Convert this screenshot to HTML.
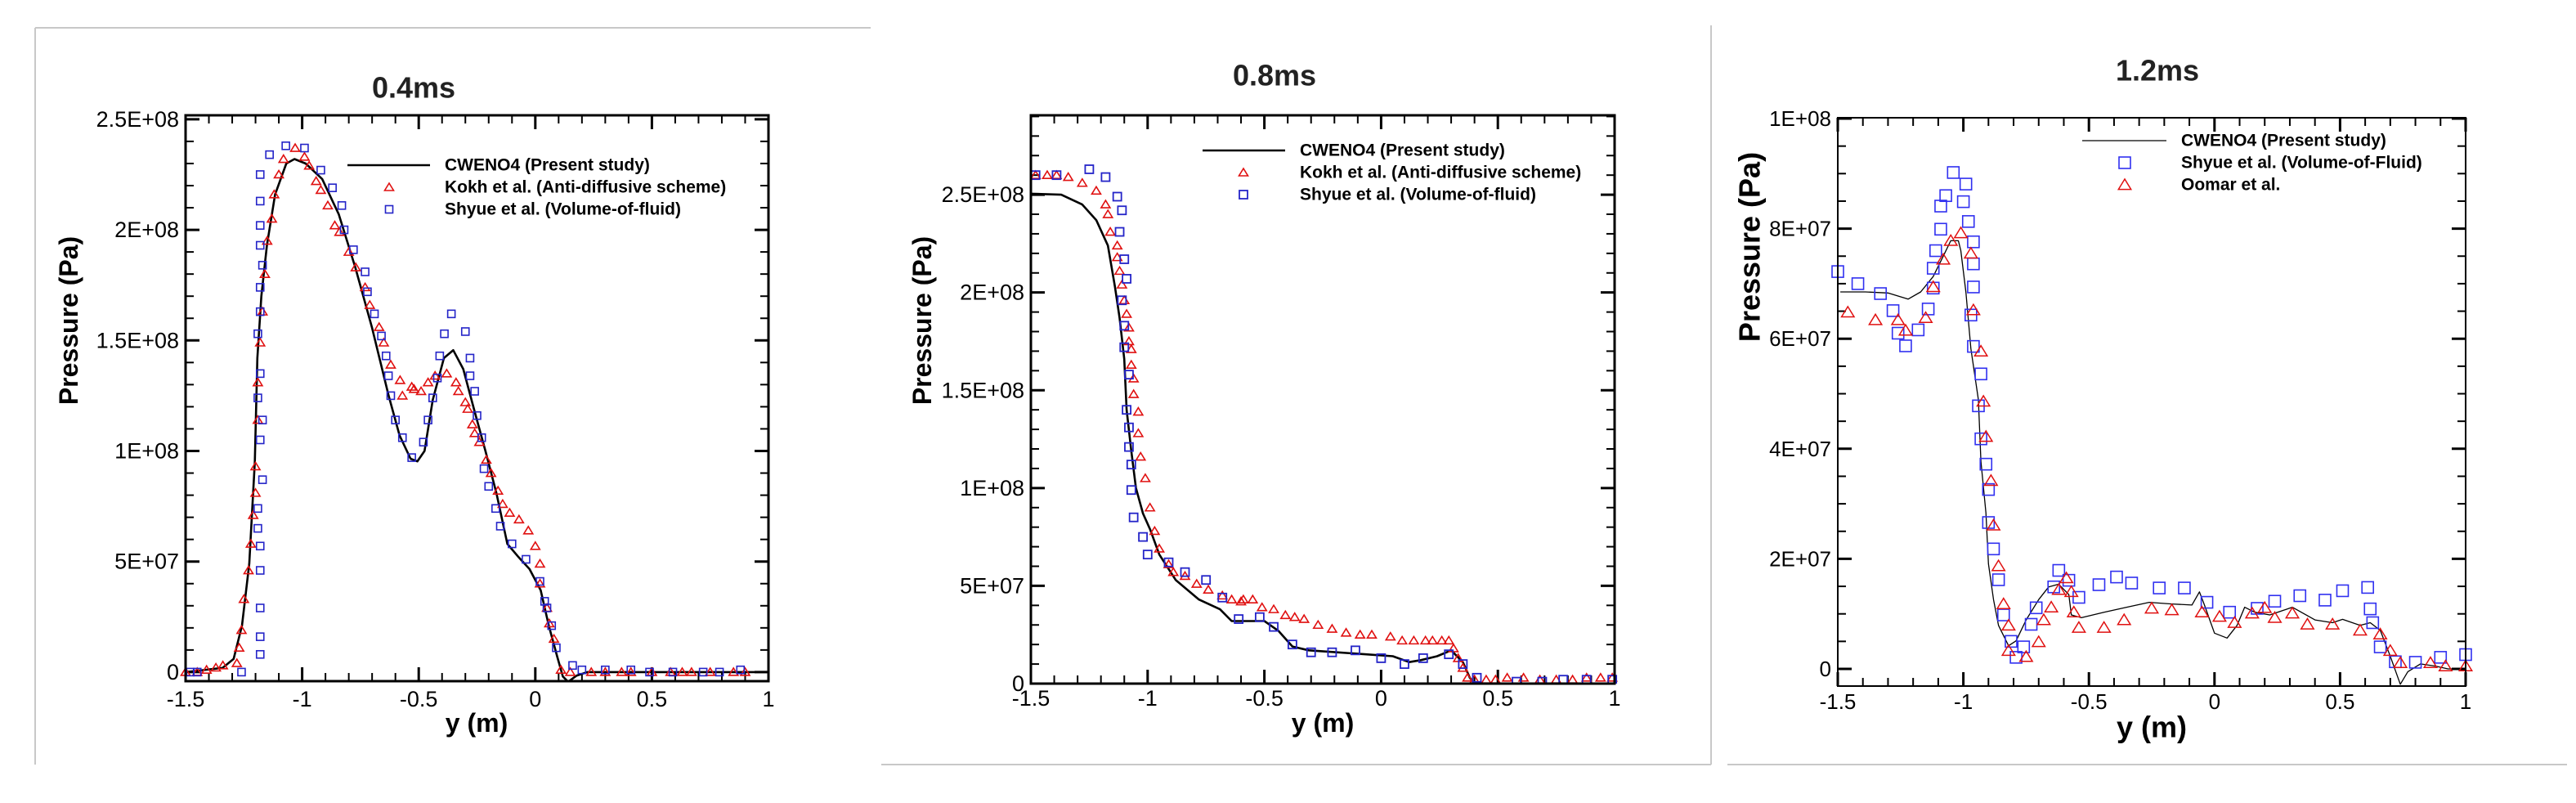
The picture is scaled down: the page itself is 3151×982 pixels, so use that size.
<!DOCTYPE html>
<html><head><meta charset="utf-8">
<style>
html,body{margin:0;padding:0;background:#fff;}
svg{display:block;font-family:"Liberation Sans",Arial,sans-serif;}
</style></head>
<body>
<svg id="chart" width="3151" height="982" viewBox="0 0 3151 982" xmlns="http://www.w3.org/2000/svg">
<g id="frames" stroke="#c8c8c8" stroke-width="2" fill="none">
<line x1="43" y1="34" x2="1065" y2="34"/>
<line x1="43" y1="34" x2="43" y2="935"/>
<line x1="1078" y1="935" x2="2093" y2="935"/>
<line x1="2093" y1="31" x2="2093" y2="935"/>
<line x1="2113" y1="935" x2="3140" y2="935"/>
</g>
</svg>
<script>
// ---------- Panel 1 (0.4ms) data: x in m, y in 1e6 Pa ----------
const p1CwenoX=[-1.5,-1.341,-1.294,-1.258,-1.227,-1.203,-1.192,-1.175,-1.151,-1.116,-1.068,-1.033,-0.985,-0.914,-0.843,-0.772,-0.701,-0.629,-0.582,-0.535,-0.506,-0.475,-0.44,-0.392,-0.352,-0.309,-0.262,-0.214,-0.167,-0.12,-0.072,-0.025,0.023,0.058,0.094,0.118,0.141,0.177,0.224,1];
const p1CwenoY=[0,1.9,6,21,49,95,142,170,193,216,230,232,230,223,207,183,156,125,107,96.5,95.3,100,123,142,145.6,137,118.5,100,81,58,52,46.6,37,21,7,-2,-4.4,-1.6,0,0];
const p1KokhX=[-1.5,-1.45,-1.41,-1.37,-1.34,-1.28,-1.27,-1.26,-1.25,-1.23,-1.22,-1.21,-1.2,-1.2,-1.19,-1.19,-1.18,-1.17,-1.16,-1.15,-1.13,-1.12,-1.1,-1.08,-1.03,-0.99,-0.97,-0.94,-0.92,-0.89,-0.86,-0.84,-0.8,-0.77,-0.73,-0.71,-0.67,-0.65,-0.62,-0.58,-0.57,-0.53,-0.52,-0.49,-0.46,-0.43,-0.38,-0.34,-0.33,-0.3,-0.29,-0.27,-0.26,-0.24,-0.21,-0.19,-0.16,-0.14,-0.11,-0.07,-0.03,0,0.02,0.02,0.05,0.06,0.08,0.11,0.15,0.24,0.3,0.37,0.41,0.5,0.58,0.63,0.67,0.75,0.85,0.9];
const p1KokhY=[0,0,1,2,3,4,11,19,33,46,58,71,81,93,114,131,149,163,180,195,205,216,225,232,237,233,229,222,218,211,202,199,190,183,174,166,156,149,139,132,125,129,128,127,131,134,135,131,127,122,119,112,108,104,96,90,82,76,72,69,64,57,49,40,29,22,15,1,0,0,0,0,0,0,0,0,0,0,0,0];
const p1ShyueX=[-1.48,-1.45,-1.26,-1.18,-1.18,-1.18,-1.18,-1.18,-1.19,-1.19,-1.17,-1.18,-1.17,-1.19,-1.18,-1.19,-1.18,-1.18,-1.17,-1.18,-1.18,-1.18,-1.18,-1.14,-1.07,-0.99,-0.92,-0.87,-0.83,-0.82,-0.78,-0.73,-0.72,-0.69,-0.66,-0.64,-0.63,-0.62,-0.6,-0.57,-0.53,-0.48,-0.46,-0.44,-0.42,-0.41,-0.39,-0.36,-0.3,-0.28,-0.28,-0.26,-0.25,-0.23,-0.22,-0.2,-0.17,-0.15,-0.1,-0.04,0.02,0.04,0.05,0.07,0.09,0.16,0.2,0.3,0.41,0.49,0.59,0.72,0.79,0.88];
const p1ShyueY=[0,0,0,8,16,29,46,57,65,74,87,105,114,124,135,153,163,174,184,193,202,213,225,234,238,237,227,219,211,200,191,181,172,162,152,143,134,125,114,106,97,104,114,124,133,143,153,162,154,142,134,127,116,106,92,84,74,66,58,51,41,32,29,21,11,3,1,1,1,0,0,0,0,1];
// ---------- Panel 2 (0.8ms) ----------
const p2CwenoX=[-1.5,-1.37,-1.28,-1.22,-1.17,-1.14,-1.12,-1.1,-1.09,-1.07,-1.05,-1.02,-0.99,-0.95,-0.88,-0.78,-0.69,-0.64,-0.59,-0.5,-0.44,-0.38,-0.31,-0.19,-0.07,0.05,0.12,0.17,0.24,0.3,0.35,0.38,0.4,1];
const p2CwenoY=[250.5,250,245,237,224,203,187,166,140,119,100,87,79,66,53,43,38,32,32,32,27,19,17,16,15,14,11,12,14,17,11,3,0,0];
const p2KokhX=[-1.48,-1.43,-1.39,-1.34,-1.28,-1.22,-1.18,-1.17,-1.16,-1.13,-1.13,-1.12,-1.11,-1.1,-1.09,-1.08,-1.08,-1.07,-1.07,-1.06,-1.06,-1.04,-1.04,-1.03,-1.01,-0.99,-0.97,-0.95,-0.91,-0.89,-0.84,-0.79,-0.74,-0.68,-0.64,-0.6,-0.59,-0.55,-0.51,-0.46,-0.41,-0.37,-0.33,-0.27,-0.21,-0.15,-0.09,-0.04,0.04,0.09,0.14,0.19,0.22,0.26,0.29,0.31,0.33,0.35,0.37,0.4,0.45,0.49,0.54,0.61,0.68,0.75,0.82,0.88,0.94,0.99];
const p2KokhY=[260,260,260,259,256,252,245,240,231,224,218,211,204,196,189,182,175,171,163,156,148,139,128,116,105,90,78,69,61,57,55,51,48,45,43,42,43,43,39,38,35,34,33,30,28,26,25,25,24,22,22,22,22,22,22,18,13,8,3,2,2,2,3,3,2,2,2,3,3,3];
const p2ShyueX=[-1.48,-1.39,-1.25,-1.18,-1.13,-1.11,-1.12,-1.1,-1.09,-1.11,-1.1,-1.1,-1.08,-1.09,-1.08,-1.08,-1.07,-1.07,-1.06,-1.02,-1,-0.91,-0.84,-0.75,-0.68,-0.61,-0.52,-0.46,-0.38,-0.3,-0.21,-0.11,0,0.1,0.18,0.29,0.35,0.41,0.58,0.69,0.78,0.88,0.99];
const p2ShyueY=[260,260,263,259,249,242,231,217,207,196,183,172,158,140,131,121,112,99,85,75,66,62,57,53,44,33,34,29,20,16,16,17,13,10,13,15,10,3,1,1,2,2,2];
// ---------- Panel 3 (1.2ms) ----------
const p3CwenoX=[-1.49,-1.39,-1.3,-1.22,-1.17,-1.12,-1.08,-1.05,-1.02,-1.01,-0.99,-0.97,-0.94,-0.93,-0.91,-0.9,-0.88,-0.86,-0.82,-0.79,-0.75,-0.7,-0.66,-0.62,-0.58,-0.57,-0.53,-0.44,-0.35,-0.26,-0.17,-0.09,-0.06,-0.04,0,0.05,0.09,0.12,0.16,0.22,0.31,0.4,0.47,0.51,0.58,0.62,0.66,0.7,0.74,0.77,0.82,0.88,0.93,1];
const p3CwenoY=[68.5,68.5,68.3,67.2,68.5,71.3,75,77.8,77.8,76,68.5,58.2,48.9,37.7,28.4,19.1,12.6,7.9,4.2,5.1,8.9,12.6,14.9,15.4,13.5,9.8,9.3,10.3,11.2,12.1,11.8,11.6,14,11.6,6.5,5.6,7.9,11.2,10.3,9.8,11.2,8.9,8.4,9,7.9,8.4,7,2.3,-2.8,-0.5,0.9,0.5,0,0];
const p3ShyueX=[-1.5,-1.42,-1.33,-1.28,-1.26,-1.23,-1.18,-1.14,-1.12,-1.12,-1.11,-1.09,-1.09,-1.07,-1.04,-1,-0.99,-0.98,-0.96,-0.96,-0.96,-0.97,-0.96,-0.93,-0.94,-0.93,-0.91,-0.9,-0.9,-0.88,-0.86,-0.84,-0.81,-0.79,-0.76,-0.73,-0.71,-0.64,-0.62,-0.58,-0.54,-0.46,-0.39,-0.33,-0.22,-0.12,-0.03,0.06,0.17,0.24,0.34,0.44,0.51,0.61,0.62,0.63,0.66,0.72,0.8,0.9,1];
const p3ShyueY=[72.2,70,68.2,65.1,61,58.7,61.6,65.4,69.2,72.8,76,79.9,84.1,86,90.2,84.9,88.1,81.3,77.6,73.6,69.4,64.3,58.6,53.6,47.8,41.8,37.2,32.6,26.6,21.8,16.2,9.8,5,2.1,4,8.1,11.1,14.9,17.9,16.1,13,15.3,16.7,15.6,14.7,14.7,12.1,10.3,11,12.3,13.3,12.5,14.2,14.8,10.9,8.4,4,1.3,1.2,2.1,2.6];
const p3OomarX=[-1.46,-1.35,-1.26,-1.23,-1.15,-1.12,-1.08,-1.05,-1.01,-0.97,-0.96,-0.93,-0.92,-0.91,-0.89,-0.88,-0.86,-0.84,-0.82,-0.82,-0.75,-0.7,-0.68,-0.65,-0.62,-0.59,-0.57,-0.56,-0.54,-0.44,-0.36,-0.25,-0.17,-0.05,0.02,0.08,0.15,0.2,0.24,0.31,0.37,0.47,0.58,0.66,0.7,0.74,0.86,0.92,1];
const p3OomarY=[64.8,63.4,63.4,61.5,63.8,69.4,74.4,77.8,79.2,75.5,65.2,57.7,48.6,42.2,34.2,26.1,18.7,11.8,7.9,3.3,2.2,4.9,8.9,11.2,14.4,16.5,14,10.3,7.5,7.5,8.9,11,10.7,10.3,9.5,8.4,10.1,11.1,9.3,10.1,8.1,8.1,7,6.3,3.3,1.1,1.1,0.5,0.5];
// tick labels
const p1YTickVals=[0,50,100,150,200,250];
const p1YTickLabels=["0","5E+07","1E+08","1.5E+08","2E+08","2.5E+08"];
const p2YTickVals=[0,50,100,150,200,250];
const p2YTickLabels=["0","5E+07","1E+08","1.5E+08","2E+08","2.5E+08"];
const p3YTickVals=[0,20,40,60,80,100];
const p3YTickLabels=["0","2E+07","4E+07","6E+07","8E+07","1E+08"];
const xTickVals=[-1.5,-1,-0.5,0,0.5,1];
const xTickLabels=["-1.5","-1","-0.5","0","0.5","1"];

const NS="http://www.w3.org/2000/svg";
const svg=document.getElementById('chart');
function mk(tag,attrs,parent){const e=document.createElementNS(NS,tag);for(const k in attrs)e.setAttribute(k,attrs[k]);(parent||svg).appendChild(e);return e;}

function panel(cfg){
  const g=mk('g',{});
  
  
  const sx=v=>cfg.x0+(v-(-1.5))/(2.5)*(cfg.x1-cfg.x0);
  const sy=v=>cfg.yb-(v-cfg.ymin)/(cfg.ymax-cfg.ymin)*(cfg.yb-cfg.yt);
  // title
  const t=mk('text',{x:cfg.tx,y:cfg.ty,'text-anchor':'middle','font-size':36,'font-weight':'bold',fill:'#222','dominant-baseline':'central'},g);
  t.textContent=cfg.title;
  
  
  // ticks
  const tg=mk('g',{stroke:'#000','stroke-width':2},g);
  
  
  for(let i=0;i<=25;i++){
    const v=-1.5+i*0.1, X=sx(v), maj=(i%5===0), L=maj?17:10;
    mk('line',{x1:X,y1:cfg.yb,x2:X,y2:cfg.yb-L,'stroke-width':maj?3:2},tg);
    mk('line',{x1:X,y1:cfg.yt,x2:X,y2:cfg.yt+L,'stroke-width':maj?3:2},tg);
  }
  for(let v=cfg.minorStart;v<=cfg.ymax+1e-9;v+=cfg.minor){
    if(v<cfg.ymin-1e-9)continue;
    const Y=sy(v), maj=Math.abs(v/cfg.major-Math.round(v/cfg.major))<1e-6, L=maj?17:10;
    mk('line',{x1:cfg.x0,y1:Y,x2:cfg.x0+L,y2:Y,'stroke-width':maj?3:2},tg);
    mk('line',{x1:cfg.x1,y1:Y,x2:cfg.x1-L,y2:Y,'stroke-width':maj?3:2},tg);
  }
  // tick labels
  cfg.yTV.forEach((v,i)=>{
    const e=mk('text',{x:cfg.x0-8,y:sy(v),'text-anchor':'end','dominant-baseline':'central','font-size':cfg.tfs,fill:'#000'},g);
    e.textContent=cfg.yTL[i];
    
    
  });
  xTickVals.forEach((v,i)=>{
    const e=mk('text',{x:sx(v),y:cfg.xly,'text-anchor':'middle','dominant-baseline':'central','font-size':cfg.tfs,fill:'#000'},g);
    e.textContent=xTickLabels[i];
    
    
  });
  // axis titles
  const yt=mk('text',{x:0,y:0,'text-anchor':'middle','dominant-baseline':'central','font-size':cfg.yfs,'font-weight':'bold',fill:'#000',transform:`translate(${cfg.ytx},${cfg.yty}) rotate(-90)`},g);
  yt.textContent='Pressure (Pa)';
  
  
  const xt=mk('text',{x:cfg.xtx,y:cfg.xty,'text-anchor':'middle','dominant-baseline':'central','font-size':cfg.xfs,'font-weight':'bold',fill:'#000'},g);
  xt.textContent='y (m)';
  
  
  // clip
  const cid=cfg.id+'-clip';
  const cp=mk('clipPath',{id:cid},g);
  mk('rect',{x:cfg.x0-10,y:cfg.yt,width:cfg.x1-cfg.x0+20,height:cfg.yb-cfg.yt},cp);
  // series
  cfg.series.forEach(s=>{
    const sg=mk('g',{'clip-path':`url(#${cid})`},g);
    
    
    if(s.type==='line'){
      const d=s.xs.map((x,i)=>(i?'L':'M')+sx(x).toFixed(1)+' '+sy(s.ys[i]).toFixed(1)).join(' ');
      const p=mk('path',{d:d,fill:'none',stroke:'#000','stroke-width':s.w,'stroke-linejoin':'round'},sg);
      
      
    } else {
      s.xs.forEach((x,i)=>{
        const X=sx(x),Y=sy(s.ys[i]),r=s.size/2;
        let m;
        if(s.type==='tri'){
          m=mk('polygon',{points:`${X},${Y-r} ${X-r*1.1},${Y+r*0.8} ${X+r*1.1},${Y+r*0.8}`,fill:'none',stroke:s.color,'stroke-width':s.sw},sg);
        } else {
          m=mk('rect',{x:X-r,y:Y-r,width:2*r,height:2*r,fill:'none',stroke:s.color,'stroke-width':s.sw},sg);
        }
        
        
      });
    }
  });
  // axes frame
  const fr=mk('rect',{x:cfg.x0,y:cfg.yt,width:cfg.x1-cfg.x0,height:cfg.yb-cfg.yt,fill:'none',stroke:'#000','stroke-width':cfg.aw},g);
  
  
  // legend
  const lg=mk('g',{},g);
  
  
  cfg.legend.forEach((L,i)=>{
    const y=cfg.ly+i*cfg.ldy;
    let m;
    if(L.type==='line'){ m=mk('line',{x1:cfg.lx1,y1:y,x2:cfg.lx2,y2:y,stroke:'#000','stroke-width':L.w},lg); }
    else if(L.type==='tri'){ const r=L.size/2,X=cfg.lsx; m=mk('polygon',{points:`${X},${y-r} ${X-r*1.1},${y+r*0.8} ${X+r*1.1},${y+r*0.8}`,fill:'none',stroke:L.color,'stroke-width':L.sw},lg); }
    else { const r=L.size/2; m=mk('rect',{x:cfg.lsx-r,y:y-r,width:2*r,height:2*r,fill:'none',stroke:L.color,'stroke-width':L.sw},lg); }
    
    
    const tx=mk('text',{x:cfg.ltx,y:y,'dominant-baseline':'central','font-size':cfg.lfs,'font-weight':'bold',fill:'#000'},lg);
    tx.textContent=L.label;
    
    
  });
}

const RED='#e01010', BLUE='#2424c8', BLUE3='#3030f0';
panel({id:'panel-0-4ms',title:'0.4ms',tx:506,ty:107,x0:227,x1:940,yt:141,yb:833,ymin:-4.1,ymax:251.8,
  major:50,minor:10,minorStart:0,yTV:p1YTickVals,yTL:p1YTickLabels,tfs:27,xly:855,
  ytx:84,yty:392,yfs:32,xtx:583,xty:884,xfs:32,aw:3,
  series:[{name:'cweno4',type:'line',xs:p1CwenoX,ys:p1CwenoY,w:2.6},
          {name:'kokh',type:'tri',xs:p1KokhX,ys:p1KokhY,color:RED,size:10,sw:1.6},
          {name:'shyue',type:'sq',xs:p1ShyueX,ys:p1ShyueY,color:BLUE,size:9,sw:1.6}],
  lx1:425,lx2:526,lsx:476,ltx:544,ly:202,ldy:27,lfs:21,
  legend:[{type:'line',w:2.6,label:'CWENO4 (Present study)'},
          {type:'tri',color:RED,size:10,sw:1.6,label:'Kokh et al. (Anti-diffusive scheme)'},
          {type:'sq',color:BLUE,size:9,sw:1.6,label:'Shyue et al. (Volume-of-fluid)'}]});
panel({id:'panel-0-8ms',title:'0.8ms',tx:1559,ty:92,x0:1261,x1:1975,yt:141,yb:836,ymin:0,ymax:290.6,
  major:50,minor:10,minorStart:0,yTV:p2YTickVals,yTL:p2YTickLabels,tfs:27,xly:854,
  ytx:1128,yty:392,yfs:32,xtx:1618,xty:884,xfs:32,aw:3,
  series:[{name:'cweno4',type:'line',xs:p2CwenoX,ys:p2CwenoY,w:2.6},
          {name:'kokh',type:'tri',xs:p2KokhX,ys:p2KokhY,color:RED,size:10,sw:1.6},
          {name:'shyue',type:'sq',xs:p2ShyueX,ys:p2ShyueY,color:BLUE,size:10,sw:1.8}],
  lx1:1471,lx2:1572,lsx:1521,ltx:1590,ly:184,ldy:27,lfs:21,
  legend:[{type:'line',w:2.6,label:'CWENO4 (Present study)'},
          {type:'tri',color:RED,size:10,sw:1.6,label:'Kokh et al. (Anti-diffusive scheme)'},
          {type:'sq',color:BLUE,size:10,sw:1.8,label:'Shyue et al. (Volume-of-fluid)'}]});
panel({id:'panel-1-2ms',title:'1.2ms',tx:2639,ty:86,x0:2248,x1:3016,yt:144,yb:839,ymin:-3.12,ymax:100.15,
  major:20,minor:5,minorStart:0,yTV:p3YTickVals,yTL:p3YTickLabels,tfs:26,xly:858,
  ytx:2140,yty:302,yfs:36,xtx:2632,xty:889,xfs:36,aw:2,
  series:[{name:'cweno4',type:'line',xs:p3CwenoX,ys:p3CwenoY,w:1.3},
          {name:'shyue',type:'sq',xs:p3ShyueX,ys:p3ShyueY,color:BLUE3,size:14,sw:1.6},
          {name:'oomar',type:'tri',xs:p3OomarX,ys:p3OomarY,color:RED,size:14,sw:1.5}],
  lx1:2547,lx2:2650,lsx:2599,ltx:2668,ly:172,ldy:27,lfs:21,
  legend:[{type:'line',w:1.3,label:'CWENO4 (Present study)'},
          {type:'sq',color:BLUE3,size:14,sw:1.6,label:'Shyue et al. (Volume-of-Fluid)'},
          {type:'tri',color:RED,size:14,sw:1.5,label:'Oomar et al.'}]});
</script>
</body></html>
